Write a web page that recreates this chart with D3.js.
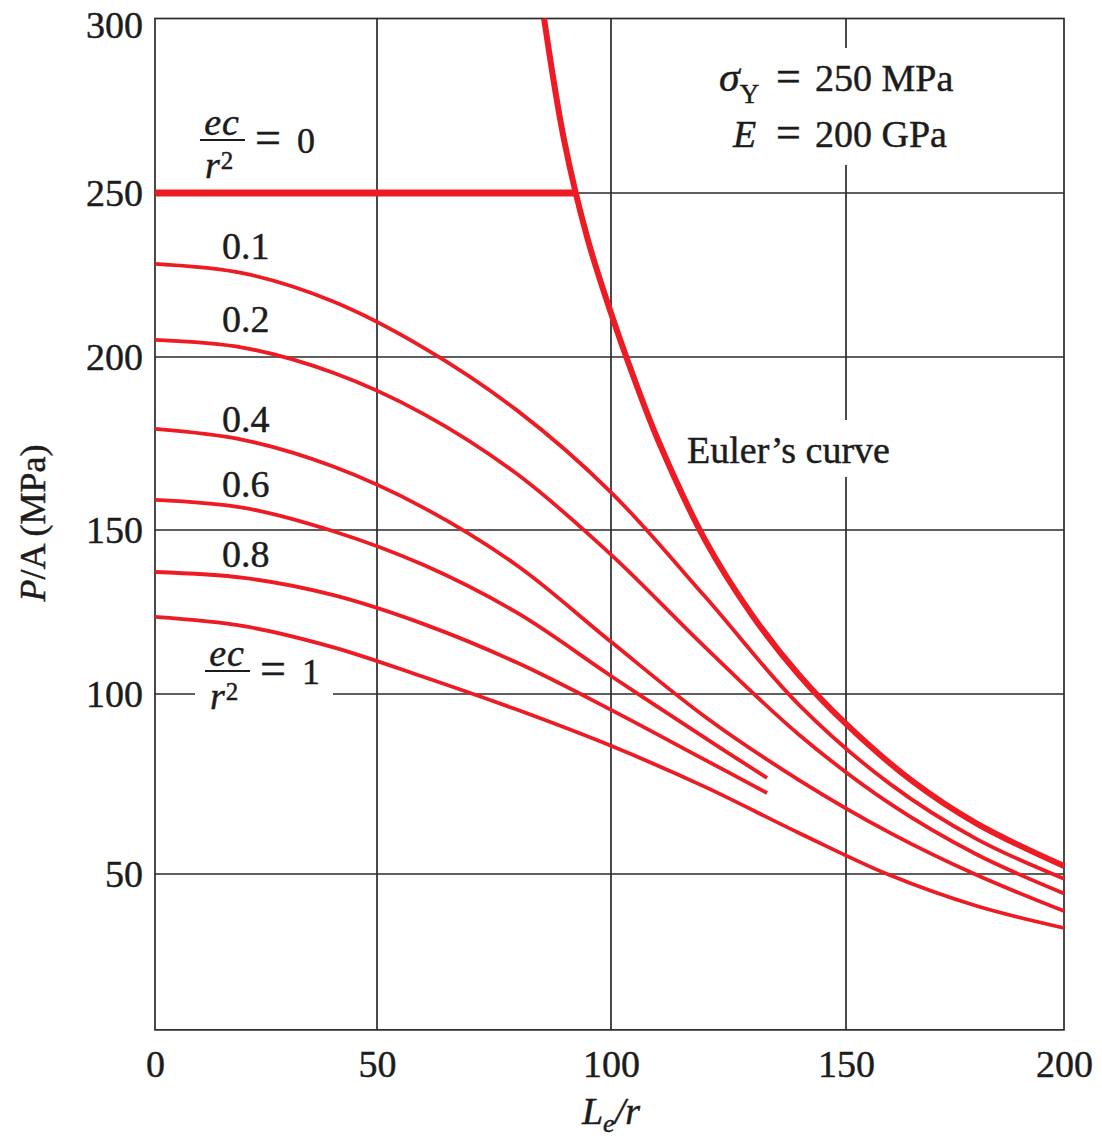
<!DOCTYPE html>
<html>
<head>
<meta charset="utf-8">
<script src="https://cdn.jsdelivr.net/npm/d3@7"></script>
<style>
  body { margin: 0; background: #fff; }
  svg text {
    font-family: "Liberation Serif", "Times New Roman", serif;
    fill: #1c1c1c;
    stroke: #1c1c1c;
    stroke-width: 0.45px;
  }
</style>
</head>
<body>
<div id="chart"></div>
<script>
// Le/r vs P/A
const lrGrid = [0, 20, 40, 60, 80, 100, 120, 140, 160, 180, 200];
const pa01 = [228.4, 225.5, 217.0, 202.8, 184.5, 160.9, 129.7, 97.0, 75.1, 59.7, 48.7];
const pa02 = [205.2, 202.8, 195.5, 183.5, 166.1, 142.5, 114.3, 88.7, 69.6, 55.4, 44.6];
const pa04 = [179.2, 176.0, 168.4, 156.4, 139.1, 115.9, 93.7, 76.1, 61.5, 49.7, 39.7];
const pa10 = [123.5, 120.7, 114.3, 105.2, 95.6, 85.6, 74.2, 61.4, 49.7, 41.1, 35.0];

// 0.6 and 0.8 stop short in the figure
const lrShort = [0, 20, 40, 60, 80, 100, 120, 133.2];
const pa06 = [158.7, 156.4, 149.7, 139.3, 124.7, 105.5, 87.8, 76.7];
const pa08 = [137.2, 135.4, 130.2, 121.3, 109.5, 95.6, 81.7, 72.5];

// Euler's curve
const lrEuler = [85.7, 90, 95, 100, 105, 110, 120, 130, 140, 150, 165, 180, 200];
const paEuler = [300, 265, 236, 213.4, 193.5, 176, 147, 124.1, 105.8, 91.7, 76, 64, 52.2];

// ec/r^2 = 0 : flat at the yield stress until it meets Euler
const lrYield = [0, 92.5];
const paYield = [250, 250];

const xTicks = [0, 50, 100, 150, 200];
const yTicks = [300, 250, 200, 150, 100, 50];
const yFloor = 6.7;   // bottom edge of the printed frame

const curveLabels = ["0.1", "0.2", "0.4", "0.6", "0.8"];
const curveLabelY = [259, 332, 432, 497, 567];

const width = 1102, height = 1141;
const red = "#ed1c24", ink = "#2a2a2a";

const svg = d3.select("#chart").append("svg")
  .attr("width", width)
  .attr("height", height);

// printed axes are not evenly spaced, so piecewise scales
const x = d3.scaleLinear().domain(xTicks).range([155, 377, 611, 846, 1064]);
const y = d3.scaleLinear().domain(yTicks).range([18.5, 193, 357, 530, 694, 874]);

// grid
const grid = svg.append("g").attr("stroke", ink).attr("stroke-width", 1.7);
grid.selectAll("line.gx").data(xTicks.slice(1, -1)).join("line")
  .attr("class", "gx")
  .attr("x1", d => x(d)).attr("x2", d => x(d))
  .attr("y1", y(300)).attr("y2", y(yFloor));
grid.selectAll("line.gy").data(yTicks.slice(1)).join("line")
  .attr("class", "gy")
  .attr("x1", x(0)).attr("x2", x(200))
  .attr("y1", d => y(d)).attr("y2", d => y(d));
grid.append("rect")
  .attr("x", x(0)).attr("y", y(300))
  .attr("width", x(200) - x(0)).attr("height", y(yFloor) - y(300))
  .attr("fill", "none");

// white patches that break the grid behind the annotations
const masks = [
  [705, 48, 263, 117],
  [683, 420, 222, 57],
  [195, 678, 138, 32]
];
svg.append("g").selectAll("rect").data(masks).join("rect")
  .attr("x", d => d[0]).attr("y", d => d[1])
  .attr("width", d => d[2]).attr("height", d => d[3])
  .attr("fill", "#fff");

// axes
const yAxis = svg.append("g")
  .attr("transform", `translate(${x(0)},0)`)
  .call(d3.axisLeft(y).tickValues(yTicks).tickSize(0).tickPadding(12));
yAxis.select(".domain").remove();
yAxis.selectAll("text").attr("font-size", 38)
  .filter(d => d === 300).attr("dy", "0.5em");

const xAxis = svg.append("g")
  .attr("transform", `translate(0,${y(yFloor)})`)
  .call(d3.axisBottom(x).tickValues(xTicks).tickSize(0).tickPadding(20));
xAxis.select(".domain").remove();
xAxis.selectAll("text").attr("font-size", 38);

// curves
const line = d3.line()
  .x(d => x(d[0]))
  .y(d => y(d[1]))
  .curve(d3.curveCatmullRom.alpha(0.5));

const series = [
  { lr: lrGrid, pa: pa01, w: 3.8 },
  { lr: lrGrid, pa: pa02, w: 3.8 },
  { lr: lrGrid, pa: pa04, w: 3.8 },
  { lr: lrShort, pa: pa06, w: 3.8 },
  { lr: lrShort, pa: pa08, w: 3.8 },
  { lr: lrGrid, pa: pa10, w: 3.8 },
  { lr: lrEuler, pa: paEuler, w: 6 },
  { lr: lrYield, pa: paYield, w: 7.2 }
];

svg.append("g").selectAll("path").data(series).join("path")
  .attr("d", s => line(d3.zip(s.lr, s.pa)))
  .attr("fill", "none")
  .attr("stroke", red)
  .attr("stroke-width", s => s.w)
  .attr("stroke-linecap", "butt");

// curve labels
svg.append("g").selectAll("text").data(curveLabels).join("text")
  .attr("x", 222)
  .attr("y", (d, i) => curveLabelY[i])
  .attr("font-size", 38)
  .text(d => d);

function fracLabel(x0, yBar, value) {
  const g = svg.append("g");
  g.append("text")
    .attr("x", x0 + 22).attr("y", yBar - 5)
    .attr("text-anchor", "middle")
    .attr("font-style", "italic").attr("font-size", 38)
    .attr("letter-spacing", 1)
    .text("ec");
  g.append("line")
    .attr("x1", x0).attr("x2", x0 + 45)
    .attr("y1", yBar).attr("y2", yBar)
    .attr("stroke", "#1c1c1c").attr("stroke-width", 1.8);
  const den = g.append("text")
    .attr("x", x0 + 5).attr("y", yBar + 38)
    .attr("font-size", 38);
  den.append("tspan").attr("font-style", "italic").text("r");
  den.append("tspan").attr("font-size", 25).attr("dy", -9).attr("dx", 1).text("2");
  g.append("text").attr("x", x0 + 55).attr("y", yBar + 13).attr("font-size", 46).text("=");
  g.append("text").attr("x", x0 + 97).attr("y", yBar + 13).attr("font-size", 36).text(value);
}
fracLabel(200, 140, "0");
fracLabel(205, 671, "1");

// material note
const s1 = svg.append("text").attr("y", 91).attr("font-size", 38);
s1.append("tspan").attr("x", 719).attr("font-style", "italic").attr("font-size", 42).text("σ");
s1.append("tspan").attr("font-size", 27).attr("dy", 12).text("Y");
s1.append("tspan").attr("x", 776).attr("dy", -12).attr("font-size", 44).text("=");
s1.append("tspan").attr("x", 815).text("250 MPa");

const s2 = svg.append("text").attr("y", 147).attr("font-size", 38);
s2.append("tspan").attr("x", 733).attr("font-style", "italic").text("E");
s2.append("tspan").attr("x", 776).attr("font-size", 44).text("=");
s2.append("tspan").attr("x", 815).text("200 GPa");

svg.append("text")
  .attr("x", 687).attr("y", 463)
  .attr("font-size", 38)
  .text("Euler’s curve");

// axis titles
const xl = svg.append("text")
  .attr("x", x(100)).attr("y", 1124)
  .attr("text-anchor", "middle")
  .attr("font-size", 38).attr("font-style", "italic");
xl.append("tspan").text("L");
xl.append("tspan").attr("font-size", 26).attr("dy", 8).text("e");
xl.append("tspan").attr("dy", -8).text("/r");

const yl = svg.append("text")
  .attr("transform", "translate(45,523) rotate(-90)")
  .attr("text-anchor", "middle")
  .attr("font-size", 36);
yl.append("tspan").attr("font-style", "italic").text("P");
yl.append("tspan").text("/A (MPa)");
</script>
</body>
</html>
